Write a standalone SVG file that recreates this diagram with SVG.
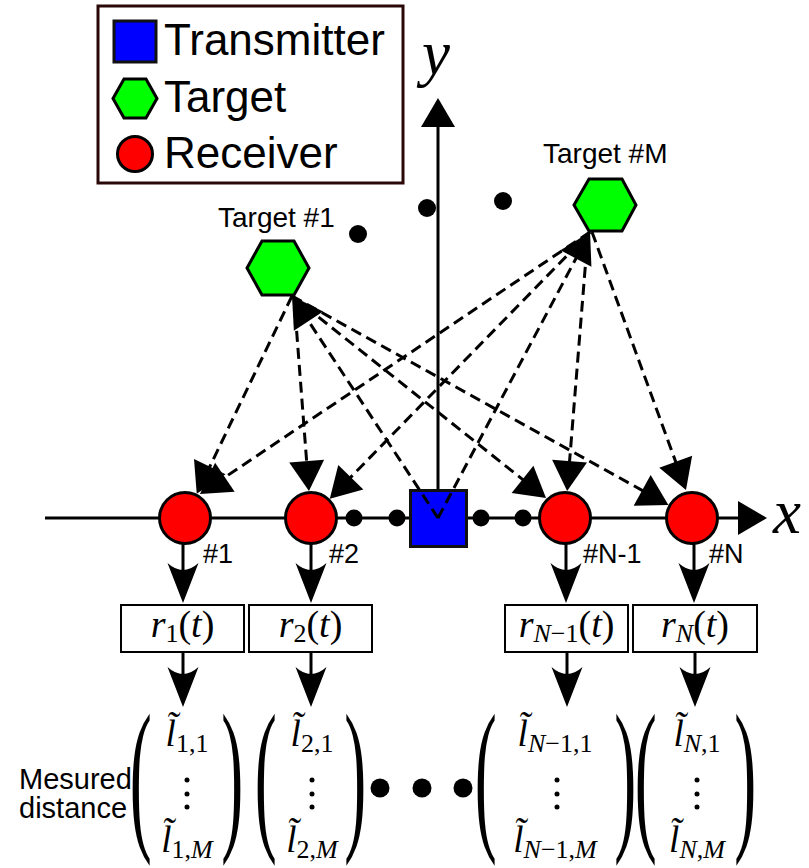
<svg xmlns="http://www.w3.org/2000/svg" width="809" height="868" viewBox="0 0 809 868">
<style>
.sans{font-family:"Liberation Sans",Arial,sans-serif;fill:#000}
.math{font-family:"Liberation Serif","DejaVu Serif",serif;fill:#000}
.it{font-style:italic}
.rx{fill:#ff0000;stroke:#000;stroke-width:3}
.tg{fill:#00ff00;stroke:#000;stroke-width:3}
.tx{fill:#0000ff;stroke:#111;stroke-width:3}
.dash{stroke:#000;stroke-width:3;stroke-dasharray:11 6;fill:none;marker-end:url(#dArrow)}
.solid{stroke:#000;stroke-width:3;fill:none}
.dot{fill:#000}
.box{fill:#fff;stroke:#000;stroke-width:2}
</style>
<defs>
<marker id="dArrow" markerUnits="userSpaceOnUse" orient="auto" refX="2" refY="0" markerWidth="1" markerHeight="1" overflow="visible">
<path d="M0,-17.5 L30,0 L0,17.5 Z" fill="#000"/>
</marker>
<marker id="aArrow" markerUnits="userSpaceOnUse" orient="auto" refX="1" refY="0" markerWidth="1" markerHeight="1" overflow="visible">
<path d="M0,-17 L29,0 L0,17 Z" fill="#000"/>
</marker>
<marker id="vArrow" markerUnits="userSpaceOnUse" orient="auto" refX="10" refY="0" markerWidth="1" markerHeight="1" overflow="visible">
<path d="M0,-15.5 Q14,0 0,15.5 L40,0 Z" fill="#000"/>
</marker>
</defs>
<rect width="809" height="868" fill="#fff"/>

<g id="legend">
<rect x="98" y="6" width="305" height="177" fill="#fff" stroke="#2a0808" stroke-width="3"/>
<rect x="114" y="21" width="42" height="41" class="tx"/>
<text x="164" y="55" class="sans" font-size="44">Transmitter</text>
<polygon points="113,98.5 124,79 146,79 157,98.5 146,118 124,118" class="tg"/>
<text x="164" y="112" class="sans" font-size="44">Target</text>
<circle cx="135" cy="154" r="17.5" class="rx"/>
<text x="164" y="168" class="sans" font-size="44">Receiver</text>
</g>

<g id="axes">
<line x1="45" y1="518" x2="739" y2="518" class="solid" marker-end="url(#aArrow)"/>
<line x1="438" y1="518" x2="438" y2="126" class="solid" marker-end="url(#aArrow)"/>
<text x="773" y="533" class="math it" font-size="63">x</text>
<text x="422" y="74" class="math it" font-size="63">y</text>
</g>

<g id="ellipsis-dots">
<circle cx="358" cy="234" r="9" class="dot"/>
<circle cx="427" cy="208" r="9" class="dot"/>
<circle cx="503" cy="201" r="9" class="dot"/>
<circle cx="354" cy="518" r="8.5" class="dot"/>
<circle cx="397" cy="518" r="8.5" class="dot"/>
<circle cx="481" cy="518" r="8.5" class="dot"/>
<circle cx="523" cy="518" r="8.5" class="dot"/>
<circle cx="380" cy="788" r="9.5" class="dot"/>
<circle cx="422" cy="788" r="9.5" class="dot"/>
<circle cx="463" cy="788" r="9.5" class="dot"/>
</g>

<g id="target-1">
<polygon points="247,268 262,241 294,241 309,268 294,295 262,295" class="tg"/>
<text x="218" y="227" class="sans" font-size="28">Target #1</text>
</g>
<g id="target-M">
<polygon points="574,205 589,179 622,179 636,205 622,231 589,231" class="tg"/>
<text x="543" y="163" class="sans" font-size="28">Target #M</text>
</g>
<g id="transmitter">
<rect x="410.5" y="490.5" width="56" height="56" class="tx"/>
</g>
<g id="receiver-1">
<circle cx="185" cy="518" r="25.5" class="rx"/>
<text x="203" y="563" class="sans" font-size="27">#1</text>
</g>
<g id="receiver-2">
<circle cx="311" cy="518" r="25.5" class="rx"/>
<text x="329" y="563" class="sans" font-size="27">#2</text>
</g>
<g id="receiver-N-1">
<circle cx="565" cy="518" r="25.5" class="rx"/>
<text x="583" y="563" class="sans" font-size="27">#N-1</text>
</g>
<g id="receiver-N">
<circle cx="692" cy="518" r="25.5" class="rx"/>
<text x="709" y="563" class="sans" font-size="27">#N</text>
</g>

<g id="signal-1">
<rect x="121" y="605" width="123" height="47" class="box"/>
<text x="182.5" y="637" class="math" font-size="38" text-anchor="middle"><tspan class="it">r</tspan><tspan font-size="26" dy="5">1</tspan><tspan dy="-5">(</tspan><tspan class="it">t</tspan>)</text>
</g>
<g id="signal-2">
<rect x="249" y="605" width="123" height="47" class="box"/>
<text x="310.5" y="637" class="math" font-size="38" text-anchor="middle"><tspan class="it">r</tspan><tspan font-size="26" dy="5">2</tspan><tspan dy="-5">(</tspan><tspan class="it">t</tspan>)</text>
</g>
<g id="signal-N-1">
<rect x="505" y="605" width="123" height="47" class="box"/>
<text x="566.5" y="637" class="math" font-size="38" text-anchor="middle"><tspan class="it">r</tspan><tspan font-size="26" dy="5"><tspan class="it">N</tspan>−1</tspan><tspan dy="-5">(</tspan><tspan class="it">t</tspan>)</text>
</g>
<g id="signal-N">
<rect x="633" y="605" width="124" height="47" class="box"/>
<text x="695" y="637" class="math" font-size="38" text-anchor="middle"><tspan class="it">r</tspan><tspan font-size="26" dy="5" class="it">N</tspan><tspan dy="-5">(</tspan><tspan class="it">t</tspan>)</text>
</g>

<g id="distance-label">
<text x="19" y="789" class="sans" font-size="29">Mesured</text>
<text x="19" y="818" class="sans" font-size="29">distance</text>
</g>

<g id="vector-1">
<text class="math" font-size="66" transform="translate(129.8,830.3) scale(1,2.54)">(</text>
<text class="math" font-size="66" transform="translate(221.2,830.3) scale(1,2.54)">)</text>
<text x="187" y="746" class="math" font-size="37" text-anchor="middle"><tspan class="it">l&#x303;</tspan><tspan font-size="26" dy="6">1,1</tspan></text>
<circle cx="187" cy="780" r="2.5" class="dot"/><circle cx="187" cy="794" r="2.5" class="dot"/><circle cx="187" cy="807" r="2.5" class="dot"/>
<text x="187" y="852" class="math" font-size="37" text-anchor="middle"><tspan class="it">l&#x303;</tspan><tspan font-size="26" dy="6">1,<tspan class="it">M</tspan></tspan></text>
</g>
<g id="vector-2">
<text class="math" font-size="66" transform="translate(254.8,830.3) scale(1,2.54)">(</text>
<text class="math" font-size="66" transform="translate(344.2,830.3) scale(1,2.54)">)</text>
<text x="312" y="746" class="math" font-size="37" text-anchor="middle"><tspan class="it">l&#x303;</tspan><tspan font-size="26" dy="6">2,1</tspan></text>
<circle cx="312" cy="780" r="2.5" class="dot"/><circle cx="312" cy="794" r="2.5" class="dot"/><circle cx="312" cy="807" r="2.5" class="dot"/>
<text x="312" y="852" class="math" font-size="37" text-anchor="middle"><tspan class="it">l&#x303;</tspan><tspan font-size="26" dy="6">2,<tspan class="it">M</tspan></tspan></text>
</g>
<g id="vector-N-1">
<text class="math" font-size="66" transform="translate(474.8,830.3) scale(1,2.54)">(</text>
<text class="math" font-size="66" transform="translate(614.2,830.3) scale(1,2.54)">)</text>
<text x="555" y="746" class="math" font-size="37" text-anchor="middle"><tspan class="it">l&#x303;</tspan><tspan font-size="26" dy="6"><tspan class="it">N</tspan>−1,1</tspan></text>
<circle cx="557" cy="780" r="2.5" class="dot"/><circle cx="557" cy="794" r="2.5" class="dot"/><circle cx="557" cy="807" r="2.5" class="dot"/>
<text x="555" y="852" class="math" font-size="37" text-anchor="middle"><tspan class="it">l&#x303;</tspan><tspan font-size="26" dy="6"><tspan class="it">N</tspan>−1,<tspan class="it">M</tspan></tspan></text>
</g>
<g id="vector-N">
<text class="math" font-size="66" transform="translate(634.8,830.3) scale(1,2.54)">(</text>
<text class="math" font-size="66" transform="translate(734.2,830.3) scale(1,2.54)">)</text>
<text x="697" y="746" class="math" font-size="37" text-anchor="middle"><tspan class="it">l&#x303;</tspan><tspan font-size="26" dy="6"><tspan class="it">N</tspan>,1</tspan></text>
<circle cx="697" cy="780" r="2.5" class="dot"/><circle cx="697" cy="794" r="2.5" class="dot"/><circle cx="697" cy="807" r="2.5" class="dot"/>
<text x="697" y="852" class="math" font-size="37" text-anchor="middle"><tspan class="it">l&#x303;</tspan><tspan font-size="26" dy="6"><tspan class="it">N</tspan>,<tspan class="it">M</tspan></tspan></text>
</g>

<g id="connectors">
<line x1="438" y1="518" x2="307.4" y2="319.4" class="dash"/>
<line x1="438" y1="518" x2="576.9" y2="256.7" class="dash"/>
<line x1="292" y1="296" x2="208.9" y2="468.5" class="dash"/>
<line x1="294" y1="297" x2="306.8" y2="463.2" class="dash"/>
<line x1="292" y1="296" x2="524.1" y2="480.6" class="dash"/>
<line x1="292" y1="296" x2="643.9" y2="491.3" class="dash"/>
<line x1="590" y1="232" x2="223.2" y2="478.4" class="dash"/>
<line x1="590" y1="232" x2="349.4" y2="478.6" class="dash"/>
<line x1="588" y1="233" x2="569.4" y2="463.2" class="dash"/>
<line x1="592" y1="232" x2="676.4" y2="463.7" class="dash"/>
<line x1="183" y1="544" x2="183" y2="573" class="solid" marker-end="url(#vArrow)"/>
<line x1="311" y1="544" x2="311" y2="573" class="solid" marker-end="url(#vArrow)"/>
<line x1="566" y1="544" x2="566" y2="573" class="solid" marker-end="url(#vArrow)"/>
<line x1="694" y1="544" x2="694" y2="573" class="solid" marker-end="url(#vArrow)"/>
<line x1="183" y1="652" x2="183" y2="677" class="solid" marker-end="url(#vArrow)"/>
<line x1="311" y1="652" x2="311" y2="677" class="solid" marker-end="url(#vArrow)"/>
<line x1="567" y1="652" x2="567" y2="677" class="solid" marker-end="url(#vArrow)"/>
<line x1="695" y1="652" x2="695" y2="677" class="solid" marker-end="url(#vArrow)"/>
</g>
</svg>
